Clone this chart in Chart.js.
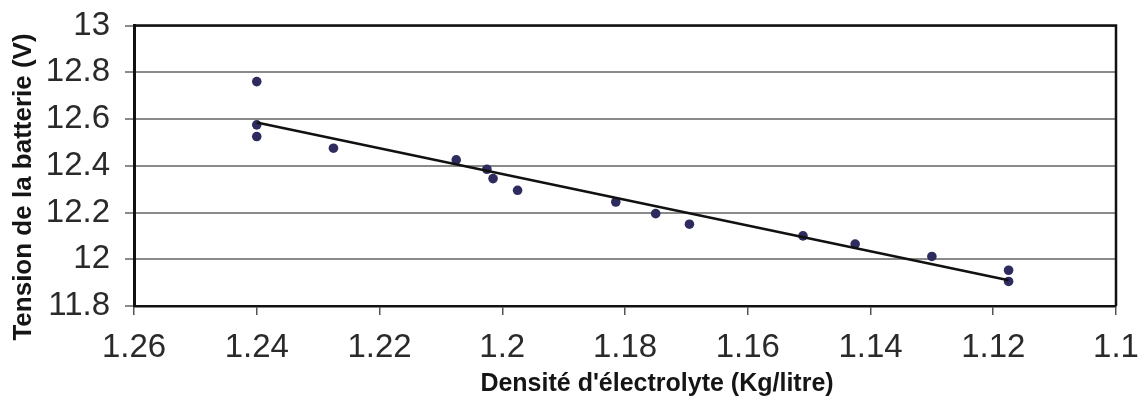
<!DOCTYPE html>
<html>
<head>
<meta charset="utf-8">
<script src="https://cdn.jsdelivr.net/npm/chart.js@4"></script>
<style>
  html, body { margin: 0; padding: 0; background: #ffffff; }
  #wrap { width: 1141px; height: 403px; position: relative; }
</style>
</head>
<body>
<div id="wrap"><canvas id="c" width="1141" height="403"></canvas></div>
<script>
// Measured battery voltage against electrolyte density
const densite = [1.24, 1.24, 1.24, 1.2275, 1.2075, 1.2025, 1.2015, 1.1975, 1.1815, 1.175, 1.1695, 1.151, 1.1425, 1.13, 1.1175, 1.1175];
const tension = [12.76, 12.575, 12.525, 12.475, 12.425, 12.385, 12.345, 12.295, 12.245, 12.195, 12.15, 12.1, 12.065, 12.012, 11.953, 11.905];

// Linear trend line end points
const trendDensite = [1.24, 1.1175];
const trendTension = [12.585, 11.91];

// Axis ticks
const xTickValues = [1.26, 1.24, 1.22, 1.2, 1.18, 1.16, 1.14, 1.12, 1.1];
const xTickLabels = ['1.26', '1.24', '1.22', '1.2', '1.18', '1.16', '1.14', '1.12', '1.1'];
const yTickValues = [13, 12.8, 12.6, 12.4, 12.2, 12, 11.8];
const yTickLabels = ['13', '12.8', '12.6', '12.4', '12.2', '12', '11.8'];

const xTitle = "Densité d'électrolyte (Kg/litre)";
const yTitle = 'Tension de la batterie (V)';

const tickFont = { family: "'Liberation Sans Narrow', 'Liberation Sans', Arial, sans-serif", size: 33 };
const titleFamily = "'Liberation Sans', Arial, sans-serif";

function labelFor(values, labels) {
  return function (value) {
    const i = values.findIndex(v => Math.abs(v - value) < 1e-6);
    return i >= 0 ? labels[i] : '';
  };
}

// Fixed axis box sizes; label overhang is taken care of by the layout padding
function fixBox(size, horizontal) {
  return function (s) {
    if (horizontal) { s.height = size; } else { s.width = size; }
    s.paddingTop = 0; s.paddingBottom = 0; s.paddingLeft = 0; s.paddingRight = 0;
  };
}

// Frame on top/right plus the two axis titles
const framePlugin = {
  id: 'frameAndTitles',
  afterDatasetsDraw(chart) {
    const { ctx, chartArea: a } = chart;
    ctx.save();
    ctx.strokeStyle = '#111111';
    ctx.lineWidth = 2.5;
    ctx.beginPath();
    ctx.moveTo(a.left, a.top);
    ctx.lineTo(a.right, a.top);
    ctx.lineTo(a.right, a.bottom);
    ctx.stroke();
    ctx.restore();
  },
  afterDraw(chart) {
    const { ctx } = chart;
    ctx.save();
    ctx.fillStyle = '#151515';
    ctx.textAlign = 'center';
    ctx.textBaseline = 'middle';
    ctx.font = 'bold 25px ' + titleFamily;
    ctx.fillText(xTitle, 657, 384);
    ctx.translate(24, 187);
    ctx.rotate(-Math.PI / 2);
    ctx.font = 'bold 26px ' + titleFamily;
    ctx.fillText(yTitle, 0, 0);
    ctx.restore();
  }
};

new Chart(document.getElementById('c'), {
  data: {
    datasets: [
      {
        type: 'line',
        data: trendDensite.map((x, i) => ({ x: x, y: trendTension[i] })),
        borderColor: '#111111',
        borderWidth: 2.5,
        pointRadius: 0,
        fill: false,
        order: 1
      },
      {
        type: 'scatter',
        data: densite.map((x, i) => ({ x: x, y: tension[i] })),
        backgroundColor: '#2e2c5e',
        borderColor: '#2e2c5e',
        borderWidth: 0,
        pointRadius: 4.8,
        order: 2
      }
    ]
  },
  plugins: [framePlugin],
  options: {
    responsive: false,
    animation: false,
    layout: { padding: { left: 0, right: 25, top: 25.5, bottom: 0 } },
    plugins: { legend: { display: false }, tooltip: { enabled: false } },
    scales: {
      x: {
        type: 'linear',
        reverse: true,
        min: 1.1,
        max: 1.26,
        afterBuildTicks: s => { s.ticks = xTickValues.map(v => ({ value: v })); },
        afterFit: fixBox(97, true),
        grid: { display: true, drawOnChartArea: false, drawTicks: true, tickLength: 9, color: '#555555', lineWidth: 1.5 },
        border: { display: true, color: '#111111', width: 2.5 },
        ticks: { font: tickFont, color: '#2a2a2a', padding: 13, maxRotation: 0, autoSkip: false, callback: labelFor(xTickValues, xTickLabels) }
      },
      y: {
        type: 'linear',
        min: 11.8,
        max: 13,
        afterBuildTicks: s => { s.ticks = yTickValues.map(v => ({ value: v })); },
        afterFit: fixBox(134, false),
        grid: { display: true, drawTicks: true, tickLength: 9, color: '#8a8a8a', lineWidth: 2 },
        border: { display: true, color: '#111111', width: 3 },
        ticks: { font: tickFont, color: '#2a2a2a', padding: 15, autoSkip: false, callback: labelFor(yTickValues, yTickLabels) }
      }
    }
  }
});
</script>
</body>
</html>
